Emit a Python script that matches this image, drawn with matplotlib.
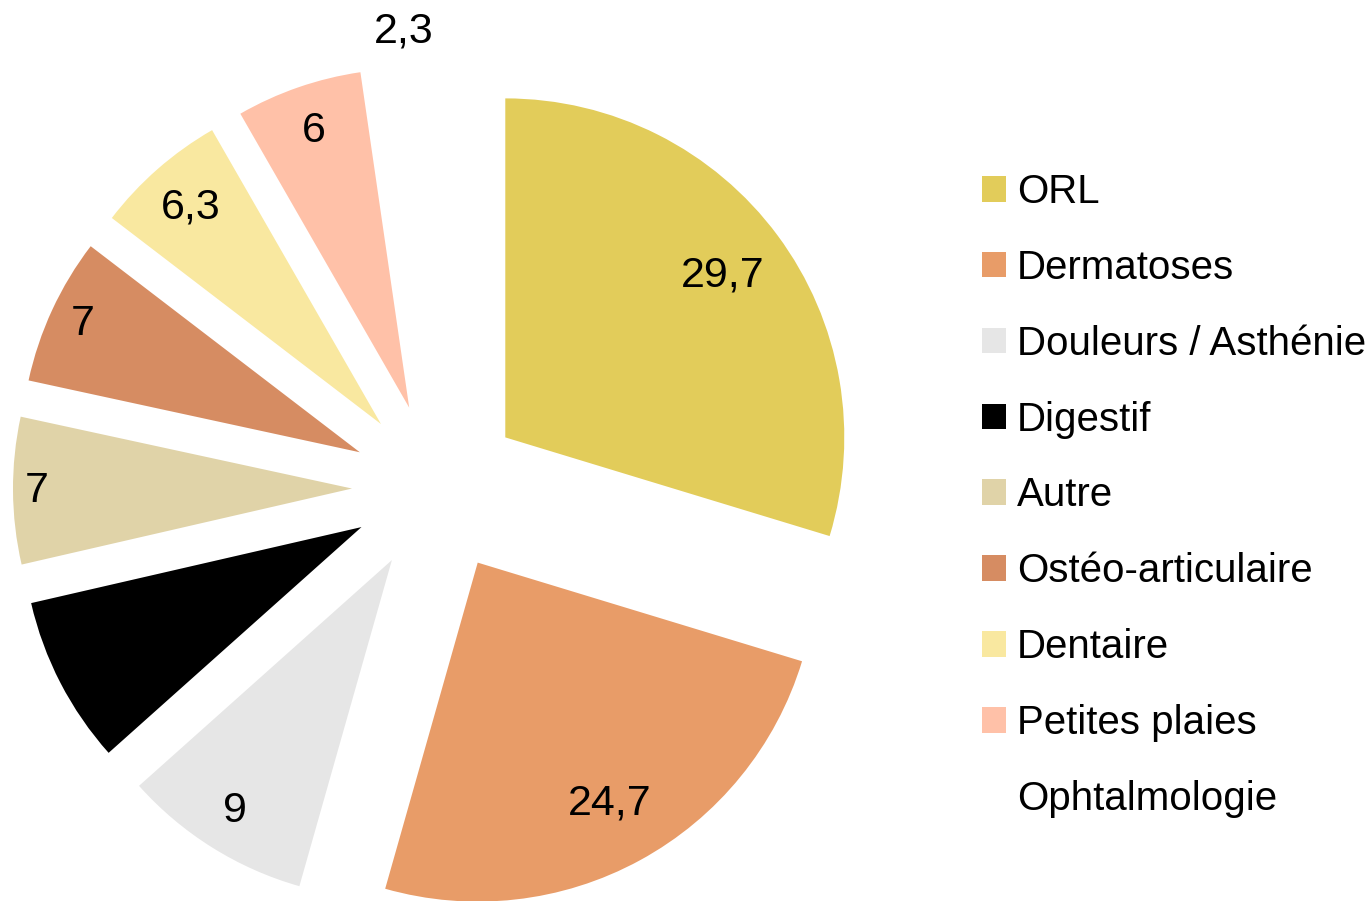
import numpy as np
import matplotlib
matplotlib.use("Agg")
import matplotlib.pyplot as plt

# data
categories = ["ORL", "Dermatoses", "Douleurs / Asthénie", "Digestif", "Autre",
              "Ostéo-articulaire", "Dentaire", "Petites plaies", "Ophtalmologie"]
values = [29.7, 24.7, 9, 8, 7, 7, 6.3, 6, 2.3]
colors = ["#E2CC5A", "#E89C68", "#E6E6E6", "#000000", "#E0D3A8",
          "#D68C62", "#F9E8A0", "#FFC1A8", "#FFFFFF"]
# how far from the wedge tip each value label sits (fraction of radius)
label_dist = [0.80, 0.81, 0.875, 0.87, 0.93, 0.90, 0.85, 0.865, 1.10]

plt.rcParams["font.family"] = ["Liberation Sans", "DejaVu Sans"]

fig = plt.figure(figsize=(13.67, 9.01), dpi=100)
ax = fig.add_axes([0, 0, 1, 1])

radius = 339
center = (437, 413)
wedges, _ = ax.pie(values, colors=colors, startangle=90, counterclock=False,
                   radius=radius, center=center, explode=[85] * len(values),
                   wedgeprops=dict(linewidth=0))

# value labels, comma as decimal separator
for w, v, d in zip(wedges, values, label_dist):
    ang = np.deg2rad((w.theta1 + w.theta2) / 2)
    cx, cy = w.center
    x = cx + d * radius * np.cos(ang)
    y = cy + d * radius * np.sin(ang)
    ax.text(x, y, f"{v:g}".replace(".", ","), ha="center", va="center",
            fontsize=31, color="black")

ax.set_xlim(0, 1367)
ax.set_ylim(0, 901)
ax.set_aspect("equal")
ax.axis("off")

fig.legend(wedges, categories, loc="upper left", bbox_to_anchor=(0.7184, 0.808),
           frameon=False, fontsize=29, handlelength=0.6, handleheight=0.6,
           handletextpad=0.27, labelspacing=0.94, borderpad=0, borderaxespad=0)

fig.savefig("out.png", dpi=100, facecolor="white")
